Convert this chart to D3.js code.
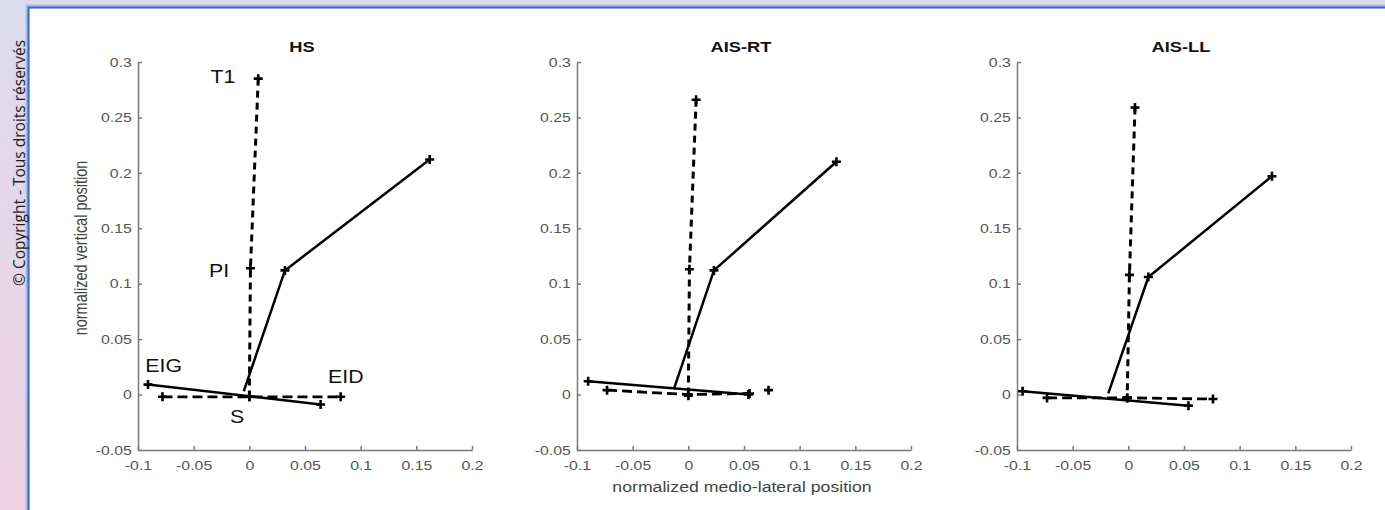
<!DOCTYPE html>
<html>
<head>
  <meta charset="utf-8">
  <title>Normalized positions</title>
<style>
body { margin: 0; }
svg { display: block; }
.axis path, .axis line {
  stroke: #7a7a7a;
  stroke-width: 1.5px;
}
.axis text {
  font-family: "Liberation Sans", Arial, sans-serif;
  font-size: 13px;
  fill: #555;
}
text.title {
  font-family: "Liberation Sans", Arial, sans-serif;
  font-size: 15px;
  font-weight: bold;
  text-anchor: middle;
  fill: #111;
}
text.axis-label {
  font-family: "Liberation Sans", Arial, sans-serif;
  font-size: 14.5px;
  fill: #444;
  text-anchor: middle;
}
text.point-label {
  font-family: "Liberation Sans", Arial, sans-serif;
  font-size: 17.5px;
  fill: #111;
}
text.copyright {
  font-family: "Open Sans", sans-serif;
  font-size: 15.5px;
  fill: #1e1e1e;
  text-anchor: middle;
}
</style>
</head>
<body>
<svg id="chart" width="1385" height="510"></svg>
<script src="https://cdnjs.cloudflare.com/ajax/libs/d3/7.8.5/d3.min.js"></script>
<script>

// panels and ticks
var panels = ["HS", "AIS-RT", "AIS-LL"];
var xTicks = [-0.1, -0.05, 0, 0.05, 0.1, 0.15, 0.2];
var yTicks = [-0.05, 0, 0.05, 0.1, 0.15, 0.2, 0.25, 0.3];

// solid lines (measured): trunk start -> middle -> top, and shoulder line
var solidTrunk = [
  [[-0.005, 0.003], [0.032, 0.112], [0.162, 0.212]],
  [[-0.013, 0.005], [0.023, 0.112], [0.133, 0.210]],
  [[-0.018, 0.001], [0.018, 0.106], [0.129, 0.197]]
];
var solidShoulder = [
  [[-0.091, 0.009], [0.064, -0.009]],
  [[-0.090, 0.012], [0.054, 0.000]],
  [[-0.095, 0.003], [0.054, -0.010]]
];

// dashed lines (reference): T1 -> PI -> S, and EIG -> S -> EID
var refVertical = [
  [[0.008, 0.285], [0.001, 0.114], [0.000, -0.002]],
  [[0.007, 0.266], [0.001, 0.113], [0.000, -0.001]],
  [[0.006, 0.259], [0.001, 0.108], [-0.001, -0.003]]
];
var refHorizontal = [
  [[-0.078, -0.002], [0.000, -0.002], [0.082, -0.002]],
  [[-0.073, 0.004], [0.000, 0.000], [0.055, 0.001]],
  [[-0.073, -0.003], [-0.001, -0.003], [0.076, -0.004]]
];
// lone marker with no line
var extraMarks = [[], [[0.072, 0.004]], []];

// point names, first panel only
var labelNames = ["T1", "PI", "EIG", "EID", "S"];
var labelX = [-0.0126, -0.018, -0.0934, 0.0707, -0.011];
var labelY = [0.281, 0.106, 0.0207, 0.0107, -0.026];
var labelAnchor = ["end", "end", "start", "start", "middle"];

var svg = d3.select("#chart");
var W = 1385, H = 510;
var stretch = 1.22;  // the picture's text is a bit wide

var defs = svg.append("defs");
var grad = defs.append("linearGradient").attr("id", "bg")
  .attr("x1", 0).attr("y1", 0).attr("x2", 0).attr("y2", 1);
grad.append("stop").attr("offset", "0%").attr("stop-color", "#dcdcef");
grad.append("stop").attr("offset", "100%").attr("stop-color", "#efd1e2");

svg.append("rect").attr("width", W).attr("height", H).attr("fill", "url(#bg)");

// white frame with blue border
svg.append("rect")
  .attr("x", 26.5).attr("y", 5.5).attr("width", W).attr("height", H)
  .attr("fill", "none").attr("stroke", "#a9bee6").attr("stroke-width", 2);
svg.append("rect")
  .attr("x", 28.5).attr("y", 7.5).attr("width", W).attr("height", H)
  .attr("fill", "#fff").attr("stroke", "#3f6cc0").attr("stroke-width", 2.2);

svg.append("text").attr("class", "copyright")
  .attr("transform", "translate(25,163) rotate(-90)")
  .text("\u00A9 Copyright - Tous droits r\u00E9serv\u00E9s");

var panelLeft = [138, 577, 1017];
var plotW = 334, yTop = 62, yBottom = 450;

var line = function (x, y) {
  return d3.line().x(function (d) { return x(d[0]); }).y(function (d) { return y(d[1]); });
};
var fmt = function (d) { return String(+d.toFixed(2)); };

function crosses(g, pts, x, y) {
  g.append("g").selectAll("path").data(pts).enter().append("path")
    .attr("d", function (d) {
      var cx = x(d[0]), cy = y(d[1]), r = 4.5;
      return "M" + (cx - r) + "," + cy + "H" + (cx + r) + "M" + cx + "," + (cy - r) + "V" + (cy + r);
    })
    .attr("stroke", "#000").attr("stroke-width", 2.6).attr("fill", "none");
}

panels.forEach(function (name, i) {
  var left = panelLeft[i];
  var x = d3.scaleLinear().domain([-0.1, 0.2]).range([left, left + plotW]);
  var y = d3.scaleLinear().domain([-0.05, 0.3]).range([yBottom, yTop]);
  var g = svg.append("g");

  g.append("g").attr("class", "axis").attr("transform", "translate(0," + yBottom + ")")
    .call(d3.axisBottom(x).tickValues(xTicks).tickSizeInner(-4).tickSizeOuter(0).tickPadding(11).tickFormat(fmt));
  g.append("g").attr("class", "axis").attr("transform", "translate(" + left + ",0)")
    .call(d3.axisLeft(y).tickValues(yTicks).tickSizeInner(-4).tickSizeOuter(0).tickPadding(5).tickFormat(fmt));
  g.selectAll(".axis").attr("font-size", null).attr("font-family", null);
  g.selectAll(".axis .tick text").attr("transform", "scale(" + stretch + ",1)").attr("fill", null);
  g.selectAll(".axis line, .axis path").attr("stroke", null);

  g.append("text").attr("class", "title")
    .attr("transform", "translate(" + (left + plotW / 2 - 3) + ",52) scale(" + stretch + ",1)")
    .text(name);

  var lg = line(x, y);
  g.append("path").attr("d", lg(refVertical[i])).attr("fill", "none")
    .attr("stroke", "#000").attr("stroke-width", 3).attr("stroke-dasharray", "7,5");
  g.append("path").attr("d", lg(refHorizontal[i])).attr("fill", "none")
    .attr("stroke", "#000").attr("stroke-width", 2.8).attr("stroke-dasharray", "10,5");
  g.append("path").attr("d", lg(solidTrunk[i])).attr("fill", "none")
    .attr("stroke", "#000").attr("stroke-width", 2.5);
  g.append("path").attr("d", lg(solidShoulder[i])).attr("fill", "none")
    .attr("stroke", "#000").attr("stroke-width", 2.5);

  crosses(g, refVertical[i].concat(refHorizontal[i]), x, y);
  crosses(g, solidTrunk[i].slice(1).concat(solidShoulder[i]), x, y);
  crosses(g, extraMarks[i], x, y);

  if (i === 0) {
    labelNames.forEach(function (t, k) {
      g.append("text").attr("class", "point-label")
        .attr("text-anchor", labelAnchor[k])
        .attr("transform", "translate(" + x(labelX[k]) + "," + y(labelY[k]) + ") scale(" + stretch + ",1)")
        .text(t);
    });
    g.append("text").attr("class", "axis-label")
      .attr("transform", "translate(87," + ((yTop + yBottom) / 2 - 8) + ") scale(" + stretch + ",1) rotate(-90)")
      .text("normalized vertical position");
  }
  if (i === 1) {
    g.append("text").attr("class", "axis-label")
      .attr("transform", "translate(" + (left + plotW / 2 - 2) + ",492) scale(" + stretch + ",1)")
      .text("normalized medio-lateral position");
  }
});

</script>
</body>
</html>
